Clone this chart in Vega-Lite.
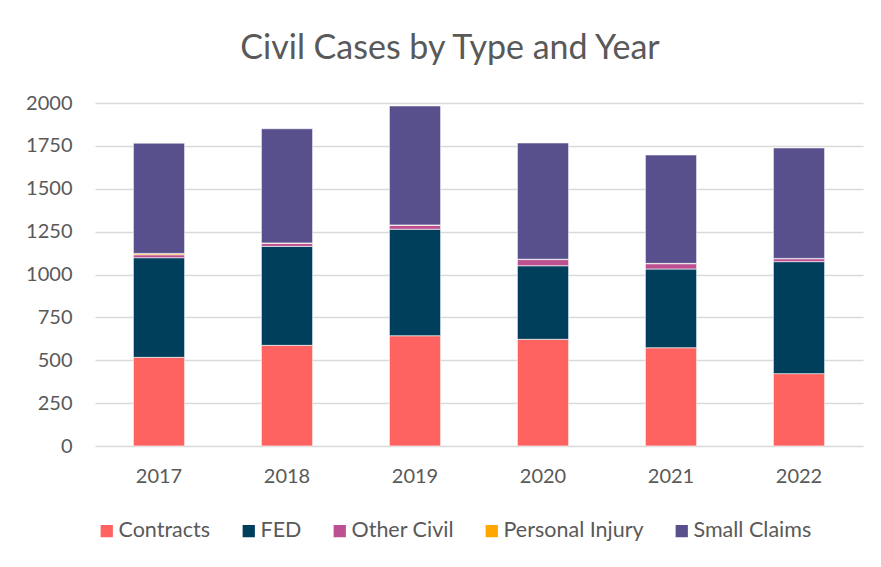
{
  "$schema": "https://vega.github.io/schema/vega-lite/v6.json",
  "width": 768,
  "height": 343,
  "autosize": "none",
  "padding": {"left": 95, "top": 103, "right": 18, "bottom": 121},
  "background": "white",
  "title": {
    "text": "Civil Cases by Type and Year",
    "anchor": "middle",
    "dx": -29,
    "offset": 27,
    "font": "Lato",
    "fontSize": 34,
    "fontWeight": "normal",
    "color": "#595959"
  },
  "data": {
    "values": [
      {"Year": "2017", "Type": "Contracts", "Cases": 517},
      {"Year": "2017", "Type": "FED", "Cases": 581},
      {"Year": "2017", "Type": "Other Civil", "Cases": 17},
      {"Year": "2017", "Type": "Personal Injury", "Cases": 8},
      {"Year": "2017", "Type": "Small Claims", "Cases": 643},
      {"Year": "2018", "Type": "Contracts", "Cases": 587},
      {"Year": "2018", "Type": "FED", "Cases": 577},
      {"Year": "2018", "Type": "Other Civil", "Cases": 18},
      {"Year": "2018", "Type": "Personal Injury", "Cases": 2},
      {"Year": "2018", "Type": "Small Claims", "Cases": 666},
      {"Year": "2019", "Type": "Contracts", "Cases": 643},
      {"Year": "2019", "Type": "FED", "Cases": 621},
      {"Year": "2019", "Type": "Other Civil", "Cases": 23},
      {"Year": "2019", "Type": "Personal Injury", "Cases": 2},
      {"Year": "2019", "Type": "Small Claims", "Cases": 694},
      {"Year": "2020", "Type": "Contracts", "Cases": 622},
      {"Year": "2020", "Type": "FED", "Cases": 429},
      {"Year": "2020", "Type": "Other Civil", "Cases": 36},
      {"Year": "2020", "Type": "Personal Injury", "Cases": 2},
      {"Year": "2020", "Type": "Small Claims", "Cases": 678},
      {"Year": "2021", "Type": "Contracts", "Cases": 573},
      {"Year": "2021", "Type": "FED", "Cases": 459},
      {"Year": "2021", "Type": "Other Civil", "Cases": 31},
      {"Year": "2021", "Type": "Personal Injury", "Cases": 2},
      {"Year": "2021", "Type": "Small Claims", "Cases": 632},
      {"Year": "2022", "Type": "Contracts", "Cases": 422},
      {"Year": "2022", "Type": "FED", "Cases": 653},
      {"Year": "2022", "Type": "Other Civil", "Cases": 17},
      {"Year": "2022", "Type": "Personal Injury", "Cases": 2},
      {"Year": "2022", "Type": "Small Claims", "Cases": 644}
    ]
  },
  "mark": {"type": "bar", "stroke": "white", "strokeWidth": 0.6},
  "encoding": {
    "x": {
      "field": "Year",
      "type": "nominal",
      "scale": {"paddingInner": 0.6, "paddingOuter": 0.3},
      "axis": {
        "title": null,
        "labelAngle": 0,
        "labelFont": "Lato",
        "labelFontSize": 20,
        "labelColor": "#595959",
        "labelPadding": 20,
        "ticks": false,
        "domain": false
      }
    },
    "y": {
      "field": "Cases",
      "type": "quantitative",
      "aggregate": "sum",
      "stack": "zero",
      "scale": {"domain": [0, 2000]},
      "axis": {
        "title": null,
        "values": [0, 250, 500, 750, 1000, 1250, 1500, 1750, 2000],
        "format": "d",
        "labelFont": "Lato",
        "labelFontSize": 20,
        "labelColor": "#595959",
        "labelPadding": 23,
        "ticks": false,
        "domain": false,
        "gridColor": "#d9d9d9",
        "gridWidth": 1.5
      }
    },
    "color": {
      "field": "Type",
      "type": "nominal",
      "scale": {
        "domain": ["Contracts", "FED", "Other Civil", "Personal Injury", "Small Claims"],
        "range": ["#ff6361", "#003f5c", "#bc5090", "#ffa600", "#58508d"]
      },
      "legend": {
        "title": null,
        "orient": "none",
        "direction": "horizontal",
        "legendX": 1,
        "legendY": 417,
        "symbolType": "square",
        "symbolSize": 150,
        "symbolStrokeWidth": 0,
        "labelFont": "Lato",
        "labelFontSize": 21.5,
        "labelColor": "#595959",
        "labelOffset": 1,
        "columnPadding": 27,
        "labelLimit": 300
      }
    },
    "order": {"field": "Type"}
  },
  "config": {"view": {"stroke": null}}
}
